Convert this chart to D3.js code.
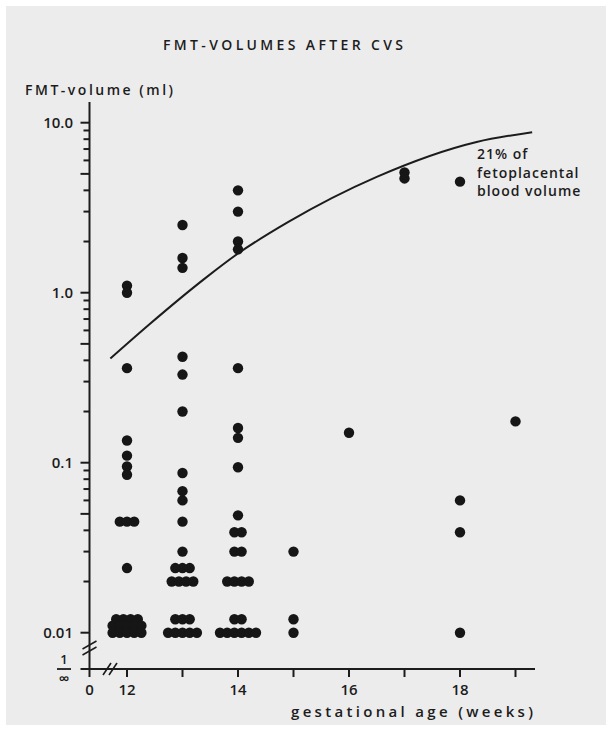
<!DOCTYPE html>
<html lang="en">
  <head>
    <meta charset="utf-8"/>
    <script src="https://d3js.org/d3.v7.min.js"></script>
    <title>FMT-volumes after CVS</title>
    <style>
      body { margin: 0; background: #fff; }
      text { font-family: "Open Sans", "DejaVu Sans", sans-serif; font-weight: 600; fill: #1c1c1c; }
    </style>
  </head>
  <body>
    <svg id="svg_main"></svg>

    <script>
      const width = 612;
      const height = 731;

      // dots per gestational week: [volume in ml, number of dots side by side]
      const wk12 = [[1.1, 1], [1.0, 1], [0.36, 1], [0.135, 1], [0.11, 1], [0.095, 1], [0.085, 1],
                    [0.045, 3], [0.024, 1], [0.012, 4], [0.011, 5], [0.01, 5]];
      const wk13 = [[2.5, 1], [1.6, 1], [1.4, 1], [0.42, 1], [0.33, 1], [0.2, 1], [0.087, 1],
                    [0.068, 1], [0.06, 1], [0.045, 1], [0.03, 1], [0.024, 3], [0.02, 4],
                    [0.012, 3], [0.01, 5]];
      const wk14 = [[4.0, 1], [3.0, 1], [2.0, 1], [1.8, 1], [0.36, 1], [0.16, 1], [0.14, 1],
                    [0.094, 1], [0.049, 1], [0.039, 2], [0.03, 2], [0.02, 4], [0.012, 2], [0.01, 6]];
      const wk15 = [[0.03, 1], [0.012, 1], [0.01, 1]];
      const wk16 = [[0.15, 1]];
      const wk17 = [[5.1, 1], [4.7, 1]];
      const wk18 = [[4.5, 1], [0.06, 1], [0.039, 1], [0.01, 1]];
      const wk19 = [[0.175, 1]];
      const weeks = [12, 13, 14, 15, 16, 17, 18, 19];
      const columns = [wk12, wk13, wk14, wk15, wk16, wk17, wk18, wk19];

      // 21% of fetoplacental blood volume
      const curveWeeks = [11.7, 12.4, 13.4, 14.0, 14.9, 16.5, 18.3, 19.3];
      const curveVolumes = [0.41, 0.65, 1.21, 1.7, 2.6, 4.8, 7.7, 8.8];

      const yMajor = [10, 1, 0.1, 0.01];
      const yMajorLabels = ["10.0", "1.0", "0.1", "0.01"];
      const xTicks = [12, 13, 14, 15, 16, 17, 18, 19];
      const xLabels = [12, 14, 16, 18];

      const axisX = 89.5;
      const baseY = 669;

      let svg = d3.select("#svg_main")
          .attr("width", width)
          .attr("height", height);

      svg.append("rect")
          .attr("x", 6).attr("y", 6)
          .attr("width", width - 12).attr("height", height - 12)
          .attr("fill", "#ececec");

      let xScale = d3.scaleLinear().domain([12, 19]).range([127, 515.5]);
      let yScale = d3.scaleLog().domain([0.01, 10]).range([632.7, 122.7]);

      // title and axis titles
      svg.append("text")
          .attr("x", 163).attr("y", 50)
          .attr("textLength", 240).attr("lengthAdjust", "spacing")
          .style("font-size", "14px")
          .text("FMT-VOLUMES AFTER CVS");

      svg.append("text")
          .attr("x", 25).attr("y", 95)
          .attr("textLength", 148).attr("lengthAdjust", "spacing")
          .style("font-size", "14px")
          .text("FMT-volume (ml)");

      svg.append("text")
          .attr("x", 291).attr("y", 717)
          .attr("textLength", 242).attr("lengthAdjust", "spacing")
          .style("font-size", "15px")
          .text("gestational age (weeks)");

      let ax = svg.append("g")
          .attr("stroke", "#1c1c1c")
          .attr("fill", "none")
          .attr("stroke-width", 2);

      // y axis line
      ax.append("line")
          .attr("x1", axisX).attr("x2", axisX)
          .attr("y1", 102).attr("y2", baseY + 1);

      // x axis line
      ax.append("line")
          .attr("x1", axisX - 9).attr("x2", 535)
          .attr("y1", baseY).attr("y2", baseY);

      // log ticks on y axis
      let yTicks = [];
      [0.01, 0.1, 1].forEach(function(dec) {
        for (let k = 1; k <= 9; k++) yTicks.push({v: dec * k, k: k});
      });
      yTicks.push({v: 10, k: 1});

      ax.selectAll(".ytick")
          .data(yTicks)
          .enter().append("line")
          .attr("class", "ytick")
          .attr("x1", function(d) { return axisX - (d.k == 1 || d.k == 5 ? 9 : 6); })
          .attr("x2", axisX)
          .attr("y1", function(d) { return yScale(d.v); })
          .attr("y2", function(d) { return yScale(d.v); });

      // x ticks
      ax.selectAll(".xtick")
          .data(xTicks)
          .enter().append("line")
          .attr("class", "xtick")
          .attr("x1", function(d) { return xScale(d); })
          .attr("x2", function(d) { return xScale(d); })
          .attr("y1", baseY)
          .attr("y2", baseY + 8);

      ax.append("line")
          .attr("x1", axisX).attr("x2", axisX)
          .attr("y1", baseY).attr("y2", baseY + 8);

      // axis break marks
      [-3, 3].forEach(function(o) {
        ax.append("line")
            .attr("x1", axisX - 7).attr("x2", axisX + 7)
            .attr("y1", 648 + o + 4).attr("y2", 648 + o - 4)
            .attr("stroke-width", 1.6);
        ax.append("line")
            .attr("x1", 110 + o - 4).attr("x2", 110 + o + 4)
            .attr("y1", baseY + 6).attr("y2", baseY - 6)
            .attr("stroke-width", 1.6);
      });

      // y tick labels
      svg.selectAll(".ylab")
          .data(yMajor)
          .enter().append("text")
          .attr("class", "ylab")
          .attr("x", 73)
          .attr("y", function(d) { return yScale(d) + 5.5; })
          .attr("text-anchor", "end")
          .style("font-size", "15px")
          .text(function(d, i) { return yMajorLabels[i]; });

      // 1/∞ label
      svg.append("text")
          .attr("x", 64).attr("y", baseY - 5)
          .attr("text-anchor", "middle")
          .style("font-size", "13px")
          .text("1");
      svg.append("line")
          .attr("x1", 57).attr("x2", 71)
          .attr("y1", baseY).attr("y2", baseY)
          .attr("stroke", "#1c1c1c").attr("stroke-width", 1.8);
      svg.append("text")
          .attr("x", 64).attr("y", baseY + 15)
          .attr("text-anchor", "middle")
          .style("font-size", "15px")
          .text("∞");

      // x tick labels
      svg.selectAll(".xlab")
          .data(xLabels)
          .enter().append("text")
          .attr("class", "xlab")
          .attr("x", function(d) { return xScale(d); })
          .attr("y", baseY + 26)
          .attr("text-anchor", "middle")
          .style("font-size", "15px")
          .text(function(d) { return d; });

      svg.append("text")
          .attr("x", axisX).attr("y", baseY + 26)
          .attr("text-anchor", "middle")
          .style("font-size", "15px")
          .text("0");

      // curve
      let curvePts = curveWeeks.map(function(w, i) { return [w, curveVolumes[i]]; });
      let line = d3.line()
          .x(function(d) { return xScale(d[0]); })
          .y(function(d) { return yScale(d[1]); })
          .curve(d3.curveMonotoneX);

      svg.append("path")
          .datum(curvePts)
          .attr("fill", "none")
          .attr("stroke", "#1c1c1c")
          .attr("stroke-width", 2)
          .attr("d", line);

      // curve label
      ["21% of", "fetoplacental", "blood volume"].forEach(function(t, i) {
        svg.append("text")
            .attr("x", 477)
            .attr("y", 159 + i * 18.5)
            .style("font-size", "14px")
            .style("letter-spacing", "1px")
            .text(t);
      });

      // dots
      const spacing = 7.2;
      let dots = [];
      columns.forEach(function(col, ci) {
        col.forEach(function(row) {
          for (let j = 0; j < row[1]; j++) {
            dots.push({week: weeks[ci], v: row[0], off: (j - (row[1] - 1) / 2) * spacing});
          }
        });
      });

      svg.selectAll(".dot")
          .data(dots)
          .enter().append("circle")
          .attr("class", "dot")
          .attr("cx", function(d) { return xScale(d.week) + d.off; })
          .attr("cy", function(d) { return yScale(d.v); })
          .attr("r", 5.2)
          .attr("fill", "#161616");
    </script>
  </body>
</html>
